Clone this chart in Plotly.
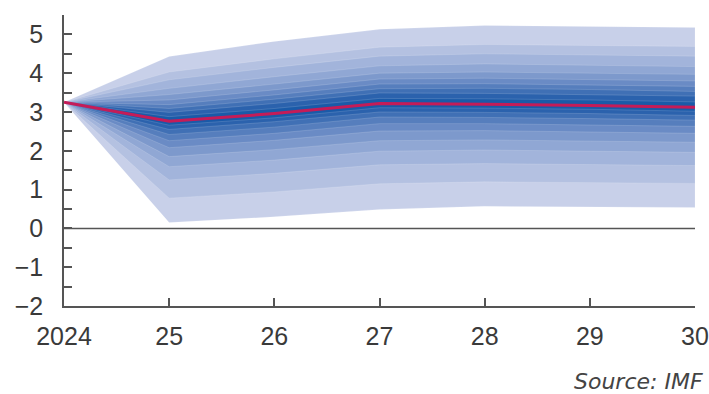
import plotly.graph_objects as go

years = [2024, 2025, 2026, 2027, 2028, 2029, 2030]
year_labels = ["2024", "25", "26", "27", "28", "29", "30"]
median = [3.25, 2.76, 2.96, 3.22, 3.20, 3.17, 3.12]

# upper band boundaries, inner -> outer
up1 = [3.25, 2.88, 3.09, 3.35, 3.34, 3.31, 3.26]
up2 = [3.25, 2.99, 3.22, 3.49, 3.48, 3.45, 3.41]
up3 = [3.25, 3.09, 3.33, 3.60, 3.61, 3.58, 3.53]
up4 = [3.25, 3.19, 3.44, 3.72, 3.73, 3.70, 3.66]
up5 = [3.25, 3.31, 3.57, 3.85, 3.87, 3.84, 3.80]
up6 = [3.25, 3.45, 3.72, 4.00, 4.03, 4.00, 3.97]
up7 = [3.25, 3.61, 3.91, 4.19, 4.24, 4.21, 4.17]
up8 = [3.25, 3.83, 4.15, 4.44, 4.50, 4.47, 4.44]
up9 = [3.25, 4.03, 4.37, 4.67, 4.74, 4.71, 4.69]
up10 = [3.25, 4.43, 4.82, 5.13, 5.23, 5.20, 5.18]

# lower band boundaries, inner -> outer
lo1 = [3.25, 2.66, 2.85, 3.11, 3.10, 3.07, 3.02]
lo2 = [3.25, 2.55, 2.75, 3.00, 2.99, 2.96, 2.91]
lo3 = [3.25, 2.42, 2.61, 2.87, 2.86, 2.83, 2.79]
lo4 = [3.25, 2.26, 2.45, 2.70, 2.70, 2.67, 2.63]
lo5 = [3.25, 2.08, 2.27, 2.51, 2.52, 2.49, 2.45]
lo6 = [3.25, 1.85, 2.03, 2.26, 2.28, 2.25, 2.22]
lo7 = [3.25, 1.59, 1.76, 1.99, 2.02, 1.99, 1.96]
lo8 = [3.25, 1.25, 1.42, 1.64, 1.67, 1.65, 1.62]
lo9 = [3.25, 0.78, 0.94, 1.15, 1.20, 1.18, 1.16]
lo10 = [3.25, 0.15, 0.30, 0.49, 0.57, 0.55, 0.54]

uppers = [up1, up2, up3, up4, up5, up6, up7, up8, up9, up10]
lowers = [lo1, lo2, lo3, lo4, lo5, lo6, lo7, lo8, lo9, lo10]

# colours inner -> outer
band_colors = ["#1a5aa8", "#2b62ad", "#4070b5", "#567ebd", "#6a8bc5",
               "#7d99cc", "#90a7d4", "#a2b4db", "#b4c1e1", "#c8d0e9"]

fig = go.Figure()

for k in range(len(uppers) - 1, -1, -1):
    fig.add_trace(go.Scatter(
        x=years + years[::-1],
        y=uppers[k] + lowers[k][::-1],
        fill="toself",
        fillcolor=band_colors[k],
        line=dict(color="rgba(255,255,255,0.25)", width=0.6),
        mode="lines",
        hoverinfo="skip",
        showlegend=False,
    ))

fig.add_trace(go.Scatter(
    x=years, y=median, mode="lines",
    line=dict(color="#c41c58", width=3),
    showlegend=False,
))

fig.add_shape(type="line", xref="paper", yref="y", x0=0, x1=1, y0=0, y1=0,
              line=dict(color="#555555", width=1.5), layer="above")

fig.update_layout(
    width=709, height=394,
    margin=dict(l=64, r=14, t=15, b=88, autoexpand=False),
    paper_bgcolor="white", plot_bgcolor="white",
    font=dict(family="Liberation Sans, Arial", size=25, color="#3a3a3a"),
    xaxis=dict(
        range=[2024, 2030],
        tickmode="array", tickvals=years, ticktext=year_labels,
        ticks="inside", ticklen=8, tickcolor="#555555", tickwidth=1.5,
        showline=True, linecolor="#555555", linewidth=1.5,
        showgrid=False, zeroline=False,
        ticklabelstandoff=7,
        ticklabeloverflow="allow",
        automargin=False,
    ),
    yaxis=dict(
        range=[-2, 5.5],
        tickmode="array", tickvals=[-2, -1, 0, 1, 2, 3, 4, 5],
        ticktext=["−2", "−1", "0", "1", "2", "3", "4", "5"],
        ticks="inside", ticklen=8, tickcolor="#555555", tickwidth=1.5,
        minor=dict(dtick=0.5, tick0=0, ticks="inside", ticklen=8,
                   tickcolor="#555555", tickwidth=1.5, showgrid=False),
        showline=True, linecolor="#555555", linewidth=1.5,
        showgrid=False, zeroline=False,
        ticklabelstandoff=14,
        automargin=False,
    ),
    annotations=[dict(
        text="<i>Source: IMF</i>", xref="paper", yref="paper",
        x=1.0, y=-0.258, xanchor="right", yanchor="middle", xshift=10,
        showarrow=False,
        font=dict(family="DejaVu Sans", size=22, color="#444444"),
    )],
)

fig.write_html("out.html")
